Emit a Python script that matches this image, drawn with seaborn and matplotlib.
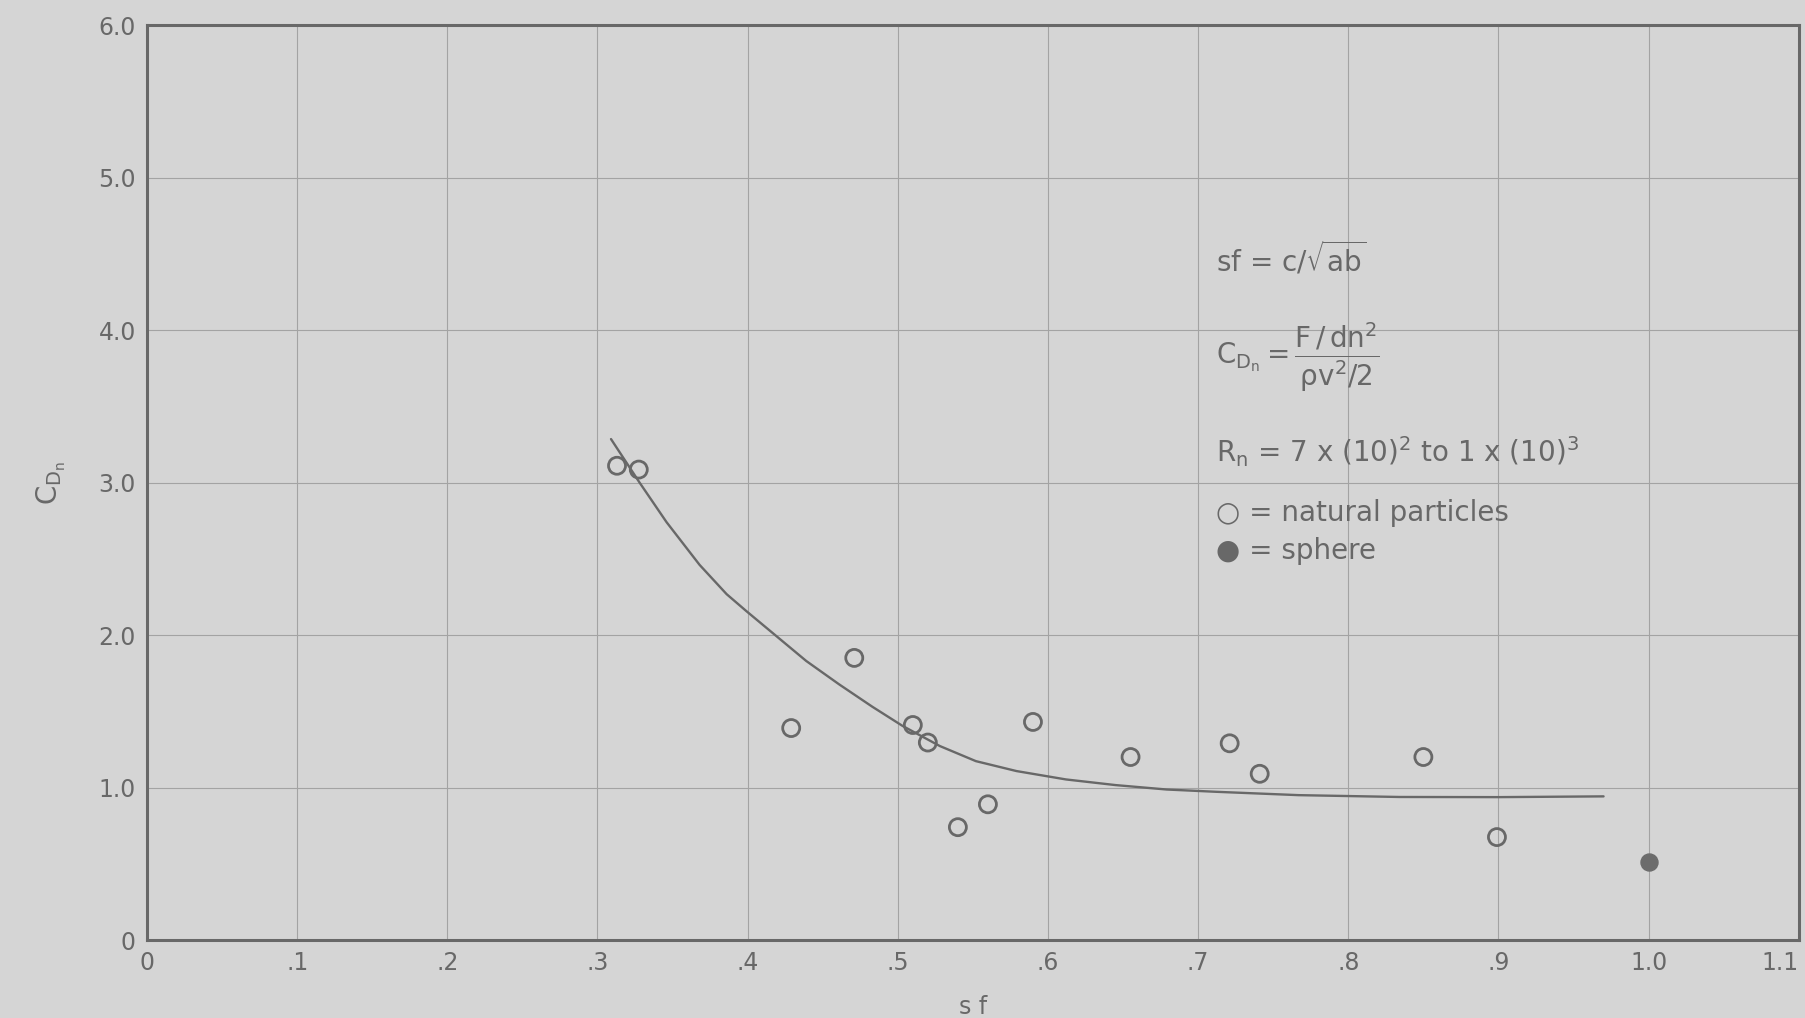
import matplotlib
matplotlib.use("Agg")
import matplotlib.pyplot as plt
import seaborn as sns
import pandas as pd

# ---- data ----
natural_sf = [0.313, 0.3275, 0.429, 0.471, 0.510, 0.520, 0.540, 0.560, 0.590, 0.655, 0.721, 0.741, 0.850, 0.899]
natural_cd = [3.11, 3.085, 1.39, 1.85, 1.41, 1.295, 0.74, 0.89, 1.43, 1.20, 1.29, 1.09, 1.20, 0.675]
sphere_sf = [1.0]
sphere_cd = [0.51]
curve_sf = [0.309, 0.328, 0.346, 0.368, 0.386, 0.399, 0.419, 0.439, 0.461, 0.483, 0.503,
            0.528, 0.552, 0.579, 0.612, 0.645, 0.679, 0.712, 0.767, 0.834, 0.900, 0.970]
curve_cd = [3.285, 3.00, 2.74, 2.46, 2.268, 2.158, 1.994, 1.830, 1.676, 1.53, 1.405,
            1.272, 1.173, 1.108, 1.053, 1.016, 0.987, 0.972, 0.950, 0.938, 0.937, 0.942]
x_ticks = [0, 0.1, 0.2, 0.3, 0.4, 0.5, 0.6, 0.7, 0.8, 0.9, 1.0, 1.1]
x_ticklabels = ["0", ".1", ".2", ".3", ".4", ".5", ".6", ".7", ".8", ".9", "1.0", "1.1"]
y_ticks = [0, 1, 2, 3, 4, 5, 6]
y_ticklabels = ["0", "1.0", "2.0", "3.0", "4.0", "5.0", "6.0"]

PAPER = "#d5d5d5"
INK = "#686868"

sns.set_theme(style="whitegrid")
plt.rcParams["font.family"] = ["DejaVu Sans"]
plt.rcParams["mathtext.fontset"] = "dejavusans"
plt.rcParams["mathtext.default"] = "regular"

fig = plt.figure(figsize=(18.06, 10.18), dpi=100, facecolor=PAPER)
ax = fig.add_axes([0.0814, 0.0766, 0.9146, 0.8988])
ax.set_facecolor(PAPER)

nat = pd.DataFrame({"sf": natural_sf, "cd": natural_cd})
sph = pd.DataFrame({"sf": sphere_sf, "cd": sphere_cd})
cur = pd.DataFrame({"sf": curve_sf, "cd": curve_cd})

sns.lineplot(data=cur, x="sf", y="cd", ax=ax, color=INK, linewidth=1.7, sort=False, zorder=3)
sns.scatterplot(data=nat, x="sf", y="cd", ax=ax, marker="o", s=150,
                facecolor="none", edgecolor=INK, linewidth=2.0, zorder=4)
sns.scatterplot(data=sph, x="sf", y="cd", ax=ax, marker="o", s=150,
                color="#6c6c6c", edgecolor="#6c6c6c", linewidth=1.0, zorder=4)

ax.set_xlim(0, 1.1)
ax.set_ylim(0, 6.0)
ax.set_xticks(x_ticks)
ax.set_xticklabels(x_ticklabels)
ax.set_yticks(y_ticks)
ax.set_yticklabels(y_ticklabels)
ax.tick_params(axis="both", length=0, labelsize=17, labelcolor=INK, pad=8)
ax.get_xticklabels()[-1].set_horizontalalignment("right")
ax.grid(True, color="#a3a3a3", linewidth=0.8)
for s in ax.spines.values():
    s.set_color(INK)
    s.set_linewidth(2.2)
    s.set_visible(True)

ax.set_xlabel("s f", fontsize=17, color=INK, labelpad=14)
ax.set_ylabel(r"$C_{D_n}$", fontsize=20, color=INK, labelpad=22)

tkw = dict(fontsize=20, color=INK, ha="left", va="center")
ax.text(0.712, 4.47, r"sf = c/$\sqrt{ab}$", **tkw)
ax.text(0.712, 3.82, r"$C_{D_n} = \dfrac{F\,/\,dn^2}{\rho v^2/2}$", **tkw)
ax.text(0.712, 3.20, r"$R_n$ = 7 x (10)$^2$ to 1 x (10)$^3$", **tkw)
ax.text(0.712, 2.80, "○ = natural particles", **tkw)
ax.text(0.712, 2.55, "● = sphere", **tkw)

fig.savefig("out.png", dpi=100, facecolor=PAPER)
